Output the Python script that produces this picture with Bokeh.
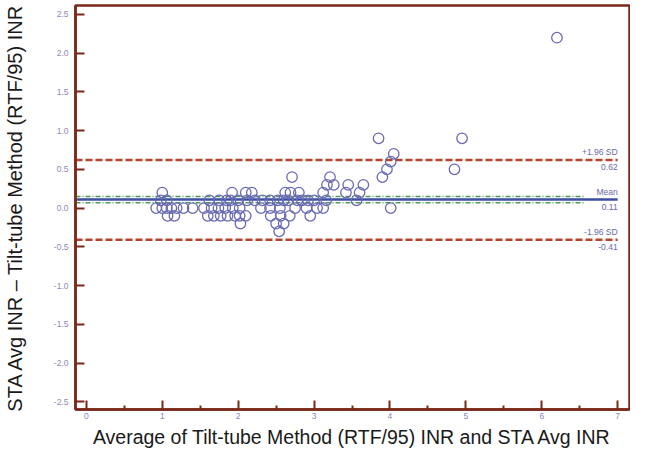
from bokeh.plotting import figure
from bokeh.models import FixedTicker, PrintfTickFormatter, Label, ColumnDataSource
from bokeh.embed import file_html
from bokeh.resources import INLINE

# ---- data: average of methods (x) and difference (y) ----
avg_inr = [
    0.92, 0.98, 1.00, 1.00, 1.06, 1.06, 1.07, 1.12, 1.16, 1.19,
    1.28, 1.40,
    1.92, 1.62, 1.75, 1.85, 1.90, 2.00, 1.55, 1.65, 1.74, 1.83, 1.93, 2.02,
    1.60, 1.68, 1.77, 1.86, 1.96, 2.10, 2.03,
    2.71, 2.10, 2.18, 2.62, 2.69, 2.80,
    2.12, 2.22, 2.32, 2.42, 2.52, 2.60, 2.66, 2.78, 2.84, 2.92, 3.00,
    2.30, 2.42, 2.55, 2.75, 2.90, 3.04,
    2.02, 2.43, 2.56, 2.68, 2.95, 2.50, 2.60, 2.54,
    3.12, 3.16, 3.12, 3.17, 3.26, 3.21, 3.42, 3.45, 3.56, 3.60, 3.65,
    3.85, 3.90, 3.96, 4.01, 4.05, 4.01,
    4.85, 4.95, 6.20,
]
diff_inr = [
    0.0, 0.1, 0.2, 0.0, 0.1, 0.0, -0.1, 0.0, -0.1, 0.0,
    0.0, 0.0,
    0.2, 0.1, 0.1, 0.1, 0.1, 0.1, 0.0, 0.0, 0.0, 0.0, 0.0, 0.0,
    -0.1, -0.1, -0.1, -0.1, -0.1, -0.1, -0.2,
    0.4, 0.2, 0.2, 0.2, 0.2, 0.2,
    0.1, 0.1, 0.1, 0.1, 0.1, 0.1, 0.1, 0.1, 0.1, 0.1, 0.1,
    0.0, 0.0, 0.0, 0.0, 0.0, 0.0,
    -0.1, -0.1, -0.1, -0.1, -0.1, -0.2, -0.2, -0.3,
    0.2, 0.1, 0.0, 0.3, 0.3, 0.4, 0.2, 0.3, 0.1, 0.2, 0.3,
    0.9, 0.4, 0.5, 0.6, 0.7, 0.0,
    0.5, 0.9, 2.2,
]

mean_diff = 0.11
upper_loa = 0.62
lower_loa = -0.41
ci_mean_hi = 0.15
ci_mean_lo = 0.07

x_ticks = [0, 1, 2, 3, 4, 5, 6, 7]
x_minor = [0.5, 1.5, 2.5, 3.5, 4.5, 5.5, 6.5]
y_ticks = [-2.5, -2.0, -1.5, -1.0, -0.5, 0.0, 0.5, 1.0, 1.5, 2.0, 2.5]

FRAME = "#7a2818"
TICKLAB = "#8a8ab6"
RED = "#b8432a"
BLUE = "#3c4fa0"
GREEN = "#4e9a58"
PT = "#6a6ab4"

p = figure(width=630, height=450, x_range=(-0.143, 7.156), y_range=(-2.60, 2.615),
           output_backend="svg", toolbar_location=None,
           min_border_left=72, min_border_right=1, min_border_top=5, min_border_bottom=39)
p.grid.visible = False
p.outline_line_color = FRAME
p.outline_line_width = 2.5
p.background_fill_color = "white"
p.border_fill_color = "white"

# axes
p.xaxis.ticker = FixedTicker(ticks=x_ticks, minor_ticks=x_minor)
p.yaxis.ticker = FixedTicker(ticks=y_ticks)
p.yaxis.formatter = PrintfTickFormatter(format="%.1f")
for ax in (p.xaxis[0], p.yaxis[0]):
    ax.axis_line_color = FRAME
    ax.axis_line_width = 2.5
    ax.major_tick_line_color = FRAME
    ax.major_tick_line_width = 2
    ax.major_tick_in = 9
    ax.major_tick_out = 0
    ax.minor_tick_line_color = FRAME
    ax.minor_tick_line_width = 2
    ax.minor_tick_in = 4
    ax.minor_tick_out = 0
    ax.major_label_text_color = TICKLAB
    ax.major_label_text_font = "Liberation Sans"
    ax.major_label_text_font_size = "8.5px"
    ax.axis_label_text_font = "Liberation Sans"
    ax.axis_label_text_font_style = "normal"
    ax.axis_label_text_color = "#1a1a1a"
p.xaxis.axis_label_text_font_size = "19.5px"
p.yaxis.axis_label_text_font_size = "20px"
p.yaxis.minor_tick_line_color = None
p.xaxis.major_label_standoff = 3
p.yaxis.major_label_standoff = 7
p.xaxis.axis_label = "Average of Tilt-tube Method (RTF/95) INR and STA Avg INR"
p.yaxis.axis_label = "STA Avg INR \u2013 Tilt-tube Method (RTF/95) INR"
p.xaxis.axis_label_standoff = 4
p.yaxis.axis_label_standoff = 25

x_left = -0.143
x_end = 7.0
x_ci_end = 6.55

# reference lines
p.line([x_left, x_end], [upper_loa, upper_loa], line_color=RED, line_width=2.5, line_dash="7 3")
p.line([x_left, x_end], [lower_loa, lower_loa], line_color=RED, line_width=2.5, line_dash="7 3")
p.line([x_left, x_ci_end], [ci_mean_hi, ci_mean_hi], line_color=GREEN, line_width=1.5, line_dash="5 2 1 2")
p.line([x_left, x_ci_end], [ci_mean_lo, ci_mean_lo], line_color=GREEN, line_width=1.5, line_dash="5 2 1 2")
p.line([x_left, x_end], [mean_diff, mean_diff], line_color=BLUE, line_width=2.5)

# points
src = ColumnDataSource(dict(x=avg_inr, y=diff_inr))
p.scatter("x", "y", source=src, size=10.5, fill_color=None, line_color=PT, line_width=1.3)

# labels on the right
def lab(y, txt, above):
    p.add_layout(Label(x=x_end, y=y, text=txt, text_align="right",
                       text_baseline="bottom" if above else "top",
                       y_offset=3 if above else -4,
                       text_font="Liberation Sans", text_font_size="8.5px",
                       text_color="#6a6aa6"))

lab(upper_loa, "+1.96 SD", True)
lab(upper_loa, f"{upper_loa:.2f}", False)
lab(mean_diff, "Mean", True)
lab(mean_diff, f"{mean_diff:.2f}", False)
lab(lower_loa, "-1.96 SD", True)
lab(lower_loa, f"{lower_loa:.2f}", False)

open("out.html", "w").write(file_html(p, INLINE))
